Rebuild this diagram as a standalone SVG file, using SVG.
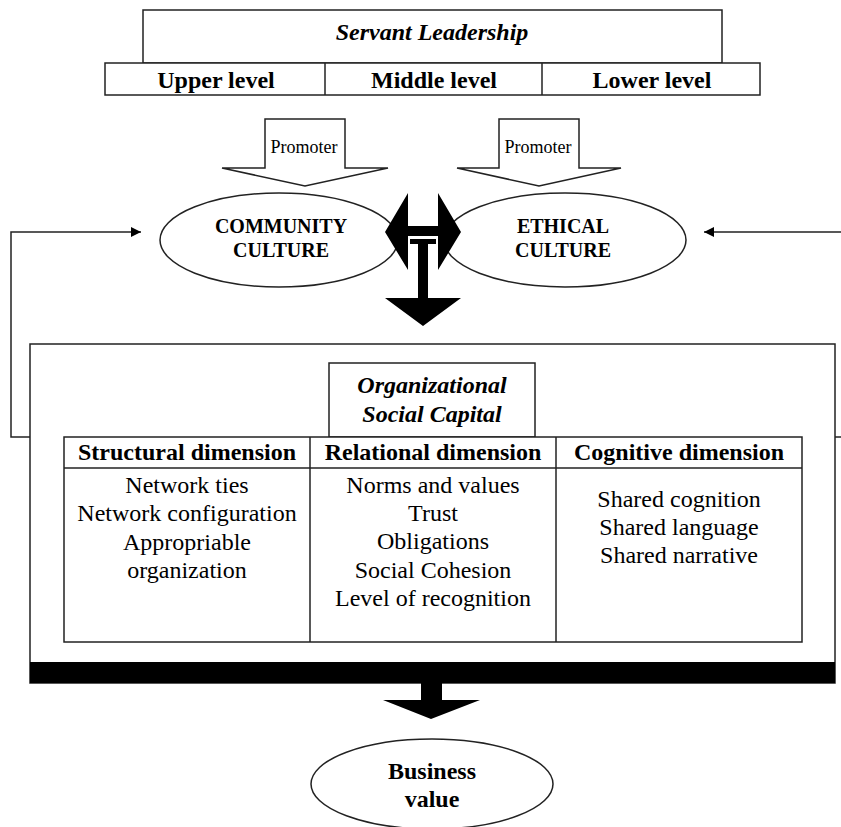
<svg xmlns="http://www.w3.org/2000/svg" width="841" height="827" viewBox="0 0 841 827">
<defs>
<style>
.box{fill:#fff;stroke:#222;stroke-width:1.5}
.ln{fill:none;stroke:#222;stroke-width:1.5}
.blk{fill:#000;stroke:none}
.t{font-family:"Liberation Serif","Times New Roman",serif;fill:#000;text-anchor:middle}
.b{font-weight:bold}
.i{font-style:italic}
.s24{font-size:24px}
.s20{font-size:20px}
.s18{font-size:18px}
</style>
<marker id="ah" viewBox="0 0 10 10" refX="10" refY="5" markerWidth="10" markerHeight="10" markerUnits="userSpaceOnUse" orient="auto">
<path d="M0,0 L10,5 L0,10 z" fill="#000"/>
</marker>
</defs>
<rect width="841" height="827" fill="#fff"/>

<g id="servant-leadership">
<rect class="box" x="143" y="10" width="579" height="53"/>
<text class="t b i s24" x="432" y="40">Servant Leadership</text>
</g>
<g id="levels">
<rect class="box" x="105" y="63" width="655" height="32"/>
<line class="ln" x1="325" y1="63" x2="325" y2="95"/>
<line class="ln" x1="542" y1="63" x2="542" y2="95"/>
<text class="t b s24" x="216" y="88">Upper level</text>
<text class="t b s24" x="434" y="88">Middle level</text>
<text class="t b s24" x="652" y="88">Lower level</text>
</g>

<g id="community-culture">
<ellipse class="box" cx="279" cy="240" rx="119" ry="47"/>
<text class="t b s20" x="281" y="233">COMMUNITY</text>
<text class="t b s20" x="281" y="257">CULTURE</text>
</g>
<g id="ethical-culture">
<ellipse class="box" cx="565" cy="240" rx="121" ry="47"/>
<text class="t b s20" x="563" y="233">ETHICAL</text>
<text class="t b s20" x="563" y="257">CULTURE</text>
</g>

<g id="organizational-social-capital">
<rect class="box" x="30" y="344" width="805" height="339"/>
<rect class="blk" x="30" y="662" width="805" height="21"/>
<rect class="box" x="329" y="363" width="206" height="74"/>
<text class="t b i s24" x="432" y="393">Organizational</text>
<text class="t b i s24" x="432" y="422">Social Capital</text>
</g>

<g id="dimensions-table">
<rect class="box" x="64" y="437" width="738" height="205"/>
<line class="ln" x1="64" y1="468" x2="802" y2="468"/>
<line class="ln" x1="310" y1="437" x2="310" y2="642"/>
<line class="ln" x1="556" y1="437" x2="556" y2="642"/>
</g>
<g id="structural-dimension">
<text class="t b s24" x="187" y="460">Structural dimension</text>
<text class="t s24" x="187" y="493">Network ties</text>
<text class="t s24" x="187" y="521">Network configuration</text>
<text class="t s24" x="187" y="550">Appropriable</text>
<text class="t s24" x="187" y="578">organization</text>
</g>
<g id="relational-dimension">
<text class="t b s24" x="433" y="460">Relational dimension</text>
<text class="t s24" x="433" y="493">Norms and values</text>
<text class="t s24" x="433" y="521">Trust</text>
<text class="t s24" x="433" y="549">Obligations</text>
<text class="t s24" x="433" y="578">Social Cohesion</text>
<text class="t s24" x="433" y="606">Level of recognition</text>
</g>
<g id="cognitive-dimension">
<text class="t b s24" x="679" y="460">Cognitive dimension</text>
<text class="t s24" x="679" y="507">Shared cognition</text>
<text class="t s24" x="679" y="535">Shared language</text>
<text class="t s24" x="679" y="563">Shared narrative</text>
</g>

<g id="business-value">
<ellipse class="box" cx="432" cy="784" rx="121" ry="45"/>
<text class="t b s24" x="432" y="779">Business</text>
<text class="t b s24" x="432" y="807">value</text>
</g>

<g id="connectors">
<path class="box" d="M265,119 H345 V168 H388 L305,186 L222,168 H265 Z"/>
<text class="t s18" x="304" y="153">Promoter</text>
<path class="box" d="M499,119 H579 V168 H621 L539,186 L457,168 H499 Z"/>
<text class="t s18" x="538" y="153">Promoter</text>
<path class="blk" d="M385,232 L408,193 V226 H438 V193 L461,232 L438,270 V236 H408 V270 Z"/>
<path class="blk" d="M410,239 H436 V244 H428 V298 H461 L423,326 L385,298 H418 V244 H410 Z"/>
<path class="ln" d="M30,437 H11 V232 H141" marker-end="url(#ah)"/>
<path class="ln" d="M835,437 H846 V232 H704" marker-end="url(#ah)"/>
<path class="blk" d="M421,683 H442 V700 H480 L431,719 L383,700 H421 Z"/>
</g>
</svg>
